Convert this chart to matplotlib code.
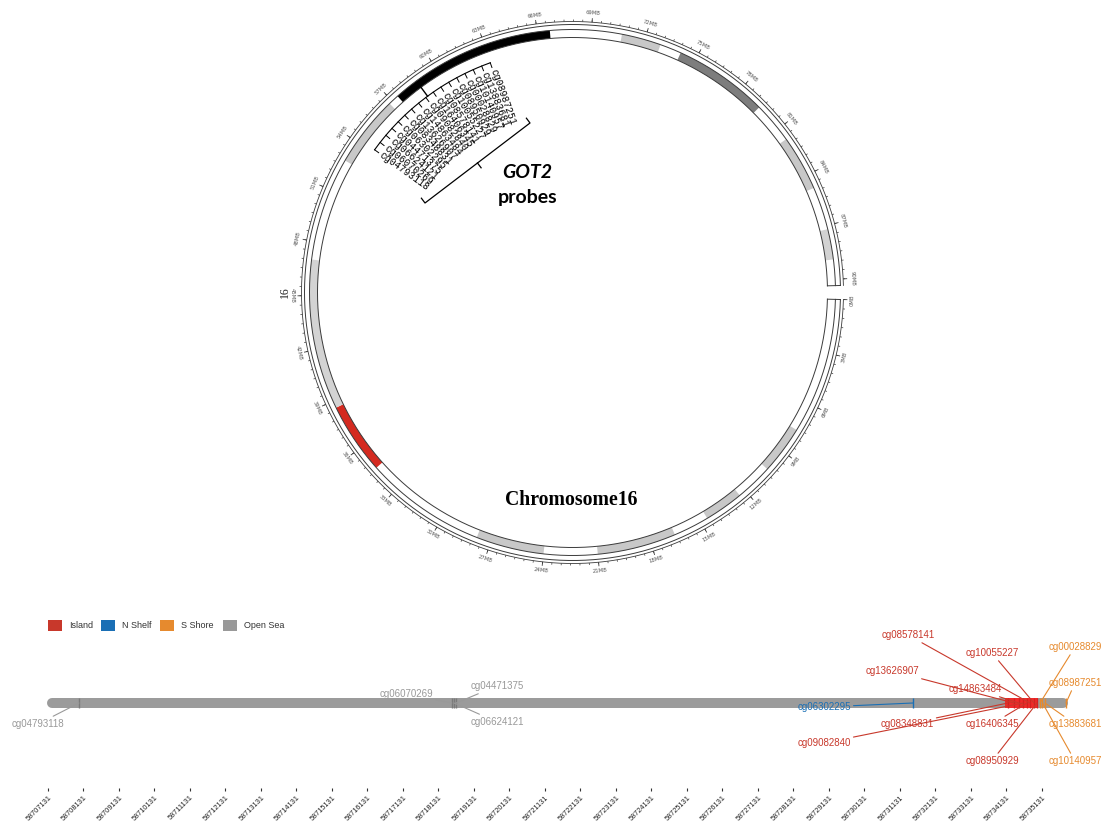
import numpy as np
import matplotlib
matplotlib.use("Agg")
import matplotlib.pyplot as plt
from matplotlib.patches import Rectangle

W, H = 1105, 821

# ---------------- chromosome 16 ideogram (Mb) ----------------
CHROM_LEN = 90.35
band_start = [0.0, 7.6, 10.3, 12.4, 14.6, 16.6, 21.0, 24.0, 27.8, 34.6, 38.6, 47.0,
              52.8, 56.8, 57.4, 66.7, 70.7, 72.9, 74.1, 79.4, 81.7, 84.8, 87.2, 88.9]
band_end = [7.6, 10.3, 12.4, 14.6, 16.6, 21.0, 24.0, 27.8, 34.6, 38.6, 47.0, 52.8,
            56.8, 57.4, 66.7, 70.7, 72.9, 74.1, 79.4, 81.7, 84.8, 87.2, 88.9, 90.35]
band_stain = ['gneg', 'gpos50', 'gneg', 'gpos50', 'gneg', 'gpos50', 'gneg', 'gpos50',
              'gneg', 'acen', 'gvar', 'gneg', 'gpos50', 'gneg', 'gpos100', 'gneg',
              'gpos50', 'gneg', 'gpos75', 'gneg', 'gpos50', 'gneg', 'gpos25', 'gneg']
chrom_tick_mb = [0, 3, 6, 9, 12, 15, 18, 21, 24, 27, 30, 33, 36, 39, 42, 45,
                 48, 51, 54, 57, 60, 63, 66, 69, 72, 75, 78, 81, 84, 87, 90]

STAIN_COLORS = {'gneg': '#ffffff', 'gpos25': '#d2d2d2', 'gpos50': '#c8c8c8',
                'gpos75': '#7d7d7d', 'gpos100': '#000000', 'acen': '#d42a20',
                'gvar': '#d3d3d3'}

# ---------------- GOT2 probes (chr16, bp) ----------------
probe_ids = ['cg04793118', 'cg06070269', 'cg06624121', 'cg04471375', 'cg06302295',
             'cg08348831', 'cg13626907', 'cg14863484', 'cg09082840', 'cg16406345',
             'cg08578141', 'cg10055227', 'cg08950929', 'cg00028829', 'cg10140957',
             'cg13883681', 'cg08987251']
probe_pos = [58708004, 58718510, 58718570, 58718625, 58731497,
             58734173, 58734342, 58734482, 58734595, 58734708,
             58734792, 58734905, 58734990, 58735075, 58735145,
             58735216, 58735807]
probe_class = ['Open Sea', 'Open Sea', 'Open Sea', 'Open Sea', 'N Shelf',
               'Island', 'Island', 'Island', 'Island', 'Island',
               'Island', 'Island', 'Island', 'S Shore', 'S Shore',
               'S Shore', 'S Shore']
island_start, island_end = 58734089, 58735018
track_start, track_end = 58707250, 58735720
axis_ticks = [58707131, 58708131, 58709131, 58710131, 58711131, 58712131, 58713131,
              58714131, 58715131, 58716131, 58717131, 58718131, 58719131, 58720131,
              58721131, 58722131, 58723131, 58724131, 58725131, 58726131, 58727131,
              58728131, 58729131, 58730131, 58731131, 58732131, 58733131, 58734131,
              58735131]

classes = ['Island', 'N Shelf', 'S Shore', 'Open Sea']
class_colors = {'Island': '#c8382b', 'N Shelf': '#1a6fb5',
                'S Shore': '#e68a2e', 'Open Sea': '#999999'}
tick_colors = {'Island': '#d42020', 'N Shelf': '#1a6fb5',
               'S Shore': '#e68a2e', 'Open Sea': '#7a7a7a'}

# label placement of the probe names around the track (pixels)
label_x = [38, 406, 497, 497, 824, 907, 892, 975, 824, 992, 908, 992, 992, 1075, 1075, 1075, 1075]
label_y = [724, 694, 722, 686, 707, 724, 671, 689, 743, 724, 635, 653, 761, 647, 761, 724, 683]

fig = plt.figure(figsize=(W / 100, H / 100), dpi=100)
fig.patch.set_facecolor('white')

# ============ circular ideogram ============
CX, CY, R_MAX = 572.5, 292.5, 300.0
ax_c = fig.add_axes([(CX - R_MAX) / W, (H - CY - R_MAX) / H, 2 * R_MAX / W, 2 * R_MAX / H],
                    projection='polar')
ax_c.set_theta_zero_location('E')
ax_c.set_theta_direction(-1)
ax_c.set_rlim(0, R_MAX)
ax_c.set_axis_off()

GAP_DEG, START_DEG = 3.0, 1.5
DEG_PER_MB = (360.0 - GAP_DEG) / CHROM_LEN


def ang(mb):
    return np.deg2rad(START_DEG + np.asarray(mb, dtype=float) * DEG_PER_MB)


R_BAND_IN, R_BAND_OUT, R_RING_OUT, R_AXIS = 255.0, 263.0, 268.0, 271.0
LINE_C = '#3a3a3a'

for s, e, st in zip(band_start, band_end, band_stain):
    if st == 'gneg':
        continue
    ax_c.bar(ang((s + e) / 2), R_BAND_OUT - R_BAND_IN, width=np.deg2rad((e - s) * DEG_PER_MB),
             bottom=R_BAND_IN, color=STAIN_COLORS[st], edgecolor='none', linewidth=0)

tt = np.linspace(ang(0), ang(CHROM_LEN), 1200)
for r in (R_BAND_IN, R_BAND_OUT, R_RING_OUT):
    ax_c.plot(tt, np.full_like(tt, r), color=LINE_C, lw=0.7)
for mb in (0, CHROM_LEN):
    ax_c.plot([ang(mb)] * 2, [R_BAND_IN, R_RING_OUT], color=LINE_C, lw=0.7)

# scale ring with ticks
ax_c.plot(tt, np.full_like(tt, R_AXIS), color=LINE_C, lw=0.6)
minor = np.arange(0, CHROM_LEN, 0.5)
ax_c.vlines(ang(minor), R_AXIS, R_AXIS + 2.0, color=LINE_C, lw=0.5)
ax_c.vlines(ang(chrom_tick_mb), R_AXIS, R_AXIS + 4.0, color=LINE_C, lw=0.6)


def tangent_rot(deg_cw):
    rot = (-deg_cw - 90.0 + 180.0) % 360.0 - 180.0
    if abs(rot) > 90.0:
        rot = (rot + 360.0) % 360.0 - 180.0
    return rot


for mb in chrom_tick_mb:
    d = START_DEG + mb * DEG_PER_MB
    ax_c.text(np.deg2rad(d), R_AXIS + 9, f'{mb}MB', rotation=tangent_rot(d),
              rotation_mode='anchor', ha='center', va='center', fontsize=3.8, color='#555555')

ax_c.text(np.pi, 288, '16', rotation=90, rotation_mode='anchor', ha='center', va='center',
          fontsize=8.5, family='Liberation Serif', color='#222222')

# probe name fan
LAB_LO, LAB_HI = 215.8, 250.3
R_ARC, R_LAB = 244.0, 237.0
lab_deg = np.linspace(LAB_LO, LAB_HI, len(probe_ids))
arc = np.linspace(np.deg2rad(LAB_LO), np.deg2rad(LAB_HI), 200)
ax_c.plot(arc, np.full_like(arc, R_ARC), color='black', lw=0.8)
locus = ang(np.mean(probe_pos) / 1e6)
ax_c.plot([locus, locus], [R_BAND_IN + 1, R_ARC], color='black', lw=1.0)
for name, d in zip(probe_ids, lab_deg):
    th = np.deg2rad(d)
    ax_c.plot([th, th], [R_ARC, R_ARC - 5], color='black', lw=0.7)
    ax_c.text(th, R_LAB, name, rotation=180.0 - d, rotation_mode='anchor', ha='left',
              va='center', fontsize=7, family='Liberation Mono', color='black')

# ============ pixel overlay for annotations ============
ax_p = fig.add_axes([0, 0, 1, 1])
ax_p.set_xlim(0, W)
ax_p.set_ylim(H, 0)
ax_p.set_axis_off()

ax_p.plot([421.4, 425, 530, 526.4], [198.2, 203, 123, 118.2], color='black', lw=0.9)
ax_p.plot([477.5, 481.1], [163, 167.8], color='black', lw=0.9)
ax_p.text(527, 173, 'GOT2', ha='center', va='center', fontsize=14, family='Lato',
          fontweight='bold', fontstyle='italic')
ax_p.text(528, 197, 'probes', ha='center', va='center', fontsize=14, family='Lato',
          fontweight='bold')
ax_p.text(571, 500, 'Chromosome16', ha='center', va='center', fontsize=14.2,
          family='Liberation Serif', fontweight='bold')

# legend
leg_x = [48, 101, 160, 223]
for cls, lx in zip(classes, leg_x):
    ax_p.add_patch(Rectangle((lx, 620), 14, 11, facecolor=class_colors[cls], edgecolor='none'))
    ax_p.text(lx + 21, 625.5, cls, ha='left', va='center', fontsize=6.5,
              family='Liberation Sans', color='#333333')

# ============ linear probe track ============
PX0, PX_PER_BP = 48.0, 35.5 / 1000.0
AXIS_Y = 788
x_lo = axis_ticks[0] - PX0 / PX_PER_BP
x_hi = axis_ticks[0] + (W - PX0) / PX_PER_BP
ax_t = fig.add_axes([0, (H - AXIS_Y) / H, 1, (AXIS_Y - 600) / H])
ax_t.set_xlim(x_lo, x_hi)
ax_t.set_ylim(AXIS_Y, 600)
ax_t.patch.set_visible(False)
for sp in ax_t.spines.values():
    sp.set_visible(False)
ax_t.set_yticks([])

BAR_Y = 703
ax_t.plot([track_start, track_end], [BAR_Y, BAR_Y], lw=7.2, color='#9b9b9b',
          solid_capstyle='round', zorder=2)
ax_t.add_patch(Rectangle((island_start, BAR_Y - 5), island_end - island_start, 10,
                         facecolor='#f02a2a', edgecolor='none', zorder=3))
ax_t.vlines(probe_pos, BAR_Y - 5, BAR_Y + 5, colors=[tick_colors[c] for c in probe_class],
            lw=1.0, zorder=4)

for name, pos, cls, tx, ty in zip(probe_ids, probe_pos, probe_class, label_x, label_y):
    ax_t.annotate(name, xy=(pos, BAR_Y), xytext=(tx, ty), textcoords=ax_p.transData,
                  ha='center', va='center', fontsize=7, family='Liberation Sans',
                  color=class_colors[cls], zorder=5,
                  arrowprops=dict(arrowstyle='-', color=class_colors[cls], lw=0.8,
                                  shrinkA=0, shrinkB=0))

ax_t.set_xticks(axis_ticks)
ax_t.set_xticklabels([str(t) for t in axis_ticks], rotation=45, ha='right', va='top',
                     rotation_mode='anchor', fontsize=5.3, family='Liberation Sans',
                     color='#222222')
ax_t.tick_params(axis='x', length=2.5, width=0.8, pad=2, color='#333333')

fig.savefig('out.png', dpi=100)
